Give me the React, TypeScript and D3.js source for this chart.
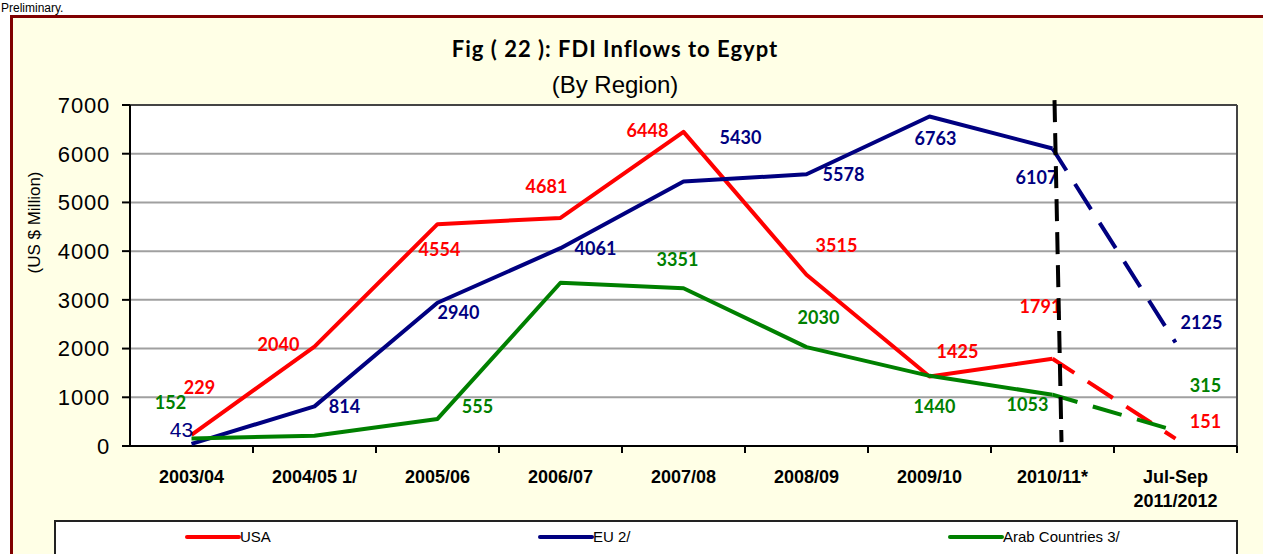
import React from "react";
import * as d3 from "d3";

// fiscal years on the x axis (multi-line labels split into parts)
const categories = ["2003/04", "2004/05 1/", "2005/06", "2006/07", "2007/08", "2008/09", "2009/10", "2010/11*", "Jul-Sep 2011/2012"];
const tickLines = [["2003/04"], ["2004/05 1/"], ["2005/06"], ["2006/07"], ["2007/08"], ["2008/09"], ["2009/10"], ["2010/11*"], ["Jul-Sep", "2011/2012"]];

// US $ million
const usaValues = [229, 2040, 4554, 4681, 6448, 3515, 1425, 1791, 151];
const euValues = [43, 814, 2940, 4061, 5430, 5578, 6763, 6107, 2125];
const arabValues = [152, 212, 555, 3351, 3238, 2030, 1440, 1053, 315];

// which points carry a printed value (the chart skips two arab points)
const arabLabelled = [true, false, true, true, false, true, true, true, true];

const yTicks = [0, 1000, 2000, 3000, 4000, 5000, 6000, 7000];

// label nudges relative to each point (layout only)
const usaNudge = [[8, -47], [-36, -2], [2, 25], [-14, -31], [-36, -1], [30, -29], [28, -25], [-12, -52], [30, -17]];
const euNudge = [[-10, -14], [30, 0], [21, 10], [35, 0], [57, -44], [37, 0], [6, 22], [-16, 29], [26, -20]];
const arabNudge = [[-21, -36], [0, 0], [40, -12], [117, -23], [0, 0], [12, -30], [5, 31], [-25, 10], [30, -45]];

const W = 1263;
const H = 554;
const plot = { left: 130, right: 1237, top: 105, bottom: 446 };

const labelFont = "Lato, 'Open Sans', sans-serif";
const arial = "'Liberation Sans', Arial, sans-serif";

export default function App() {
  const x = d3.scaleBand().domain(categories).range([plot.left, plot.right]).padding(0);
  const y = d3.scaleLinear().domain([0, 7000]).range([plot.bottom, plot.top]);
  const cx = (i: number) => (x(categories[i]) as number) + x.bandwidth() / 2;

  const series = [
    { name: "USA", values: usaValues, color: "#FF0000", nudge: usaNudge, labelled: usaValues.map(() => true), legendX: 187 },
    { name: "EU 2/", values: euValues, color: "#000080", nudge: euNudge, labelled: euValues.map(() => true), legendX: 540 },
    { name: "Arab Countries 3/", values: arabValues, color: "#008000", nudge: arabNudge, labelled: arabLabelled, legendX: 950 },
  ];

  const line = d3
    .line<[number, number]>()
    .x(d => d[0])
    .y(d => d[1]);

  const lastSolid = 7;
  const boundaries = d3.range(1, categories.length + 1).map(k => plot.left + k * x.bandwidth());

  // vertical marker at the 2010/11 period (slightly slanted, like the original)
  const markX = cx(lastSolid);

  return (
    <svg width={W} height={H} style={{ position: "absolute", left: 0, top: 0, display: "block" }}>
      <rect x={0} y={0} width={W} height={H} fill="#fff" />
      <text x={1} y={12} fontFamily={arial} fontSize={12} fill="#000">Preliminary.</text>

      {/* outer frame */}
      <rect x={11.5} y={16.5} width={1400} height={700} fill="#FFFFE6" stroke="#800000" strokeWidth={3} />

      <text x={615} y={57} textAnchor="middle" fontFamily={labelFont} fontWeight="bold" fontSize={22} letterSpacing={1}>
        Fig ( 22 ): FDI Inflows to Egypt
      </text>
      <text x={615} y={93} textAnchor="middle" fontFamily={arial} fontSize={24}>
        (By Region)
      </text>

      {/* plot area */}
      <rect x={plot.left} y={plot.top} width={plot.right - plot.left} height={plot.bottom - plot.top} fill="#fff" />
      {yTicks.filter(t => t > 0).map(t => (
        <line key={t} x1={plot.left} x2={plot.right} y1={y(t)} y2={y(t)} stroke={t === 7000 ? "#444" : "#A0A0A0"} strokeWidth={2} />
      ))}
      <line x1={plot.right} x2={plot.right} y1={plot.top} y2={plot.bottom} stroke="#444" strokeWidth={2} />

      {/* y axis */}
      <line x1={plot.left} x2={plot.left} y1={plot.top} y2={plot.bottom} stroke="#000" strokeWidth={2} />
      {yTicks.map(t => (
        <g key={t}>
          <line x1={plot.left - 8} x2={plot.left} y1={y(t)} y2={y(t)} stroke="#000" strokeWidth={2} />
          <text x={110} y={y(t)} dy="0.36em" textAnchor="end" fontFamily={arial} fontSize={22} letterSpacing={0.8} fill="#000">
            {t}
          </text>
        </g>
      ))}
      <text transform={`translate(40,${(plot.top + plot.bottom) / 2 - 53}) rotate(-90)`} textAnchor="middle" fontFamily={arial} fontSize={17}>
        (US $ Million)
      </text>

      {/* x axis */}
      <line x1={plot.left - 8} x2={plot.right} y1={plot.bottom} y2={plot.bottom} stroke="#000" strokeWidth={2} />
      {boundaries.map((b, i) => (
        <line key={i} x1={b} x2={b} y1={plot.bottom} y2={plot.bottom + 7} stroke="#000" strokeWidth={2} />
      ))}
      {tickLines.map((lines, i) => (
        <text key={i} x={cx(i)} y={483} textAnchor="middle" fontFamily={arial} fontWeight="bold" fontSize={18}>
          {lines.map((l, j) => (
            <tspan key={j} x={cx(i)} dy={j === 0 ? 0 : 24}>{l}</tspan>
          ))}
        </text>
      ))}

      {/* series lines */}
      {series.map(s => {
        const pts = s.values.map((v, i) => [cx(i), y(v)] as [number, number]);
        return (
          <g key={s.name}>
            <path d={line(pts.slice(0, lastSolid + 1)) || ""} fill="none" stroke={s.color} strokeWidth={4} strokeLinejoin="round" />
            <path d={line(pts.slice(lastSolid)) || ""} fill="none" stroke={s.color} strokeWidth={4} strokeDasharray="30 16" strokeDashoffset={4} />
          </g>
        );
      })}

      {/* value labels */}
      {series.map(s =>
        s.values.map((v, i) => {
          if (!s.labelled[i]) return null;
          const [dx, dy] = s.nudge[i];
          const plain = s.name === "EU 2/" && i === 0;
          return (
            <text
              key={s.name + i}
              x={cx(i) + dx}
              y={y(v) + dy + (plain ? 7.5 : 6.5)}
              textAnchor="middle"
              fontFamily={plain ? arial : labelFont}
              fontWeight={plain ? "normal" : "bold"}
              fontSize={plain ? 21 : 18}
              fill={s.color}
            >
              {v}
            </text>
          );
        })
      )}

      {/* 2010/11 marker */}
      <line x1={markX + 2} x2={markX + 9} y1={y(7100)} y2={y(80)} stroke="#000" strokeWidth={4} strokeDasharray="22 11" />

      {/* legend */}
      <rect x={55} y={521} width={plot.right - 55} height={100} fill="#fff" stroke="#222" strokeWidth={2} />
      {series.map(s => (
        <g key={s.name} transform={`translate(${s.legendX},537)`}>
          <line x1={0} x2={52} y1={0} y2={0} stroke={s.color} strokeWidth={4} strokeLinecap="round" />
          <text x={53} y={0} dy="0.36em" fontFamily={arial} fontSize={15}>{s.name}</text>
        </g>
      ))}
    </svg>
  );
}
